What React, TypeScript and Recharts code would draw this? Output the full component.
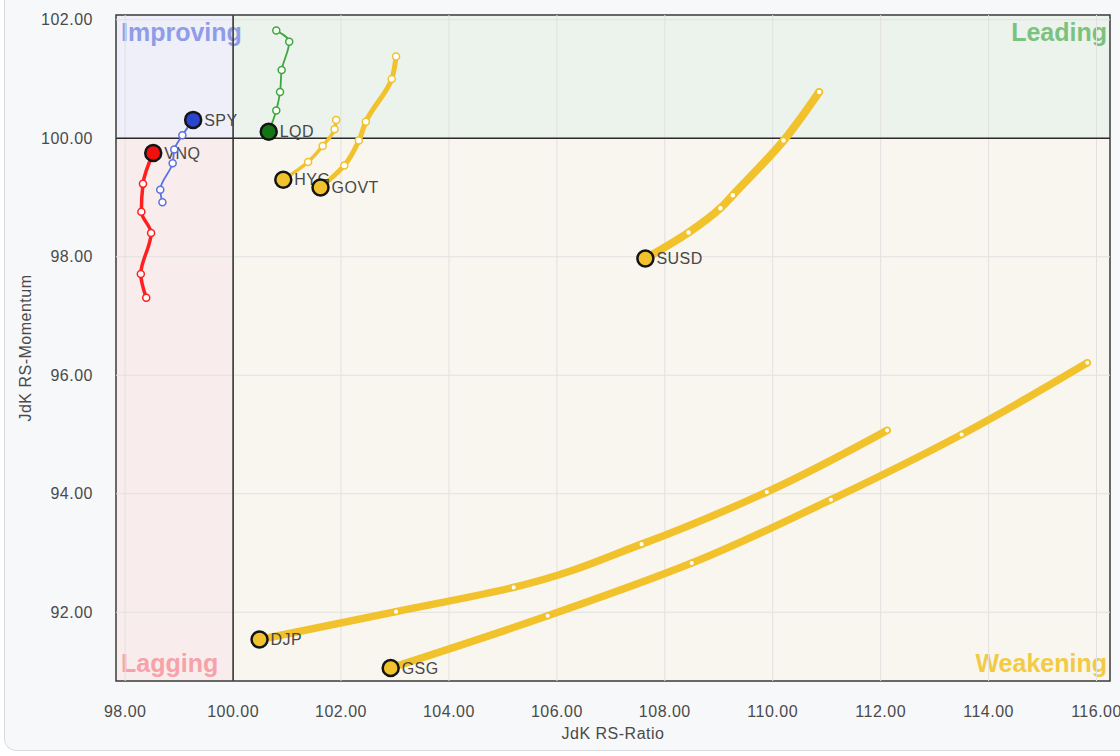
import React from "react";
import {
  ComposedChart,
  Line,
  XAxis,
  YAxis,
  ReferenceArea,
  ReferenceLine,
} from "recharts";

// axis ranges + ticks
const xDomain = [97.83, 116.25];
const yDomain = [90.84, 102.08];
const xTicks = [98, 100, 102, 104, 106, 108, 110, 112, 114, 116];
const yTicks = [92, 94, 96, 98, 100, 102];

// trails, tail -> head (head is the last point)
const vnqX = [98.39, 98.29, 98.48, 98.3, 98.33, 98.52];
const vnqY = [97.31, 97.71, 98.4, 98.76, 99.23, 99.75];

const spyX = [98.69, 98.65, 98.88, 98.91, 99.06, 99.26];
const spyY = [98.92, 99.13, 99.58, 99.81, 100.05, 100.31];

const lqdX = [100.8, 101.04, 100.9, 100.87, 100.8, 100.66];
const lqdY = [101.82, 101.63, 101.15, 100.78, 100.47, 100.11];

const hygX = [101.91, 101.88, 101.66, 101.39, 100.93];
const hygY = [100.31, 100.15, 99.87, 99.6, 99.3];

const govtX = [103.02, 102.94, 102.46, 102.33, 102.06, 101.62];
const govtY = [101.38, 101.0, 100.28, 99.96, 99.54, 99.17];

const susdX = [110.86, 110.2, 109.26, 109.03, 108.44, 107.64];
const susdY = [100.78, 99.96, 99.04, 98.82, 98.41, 97.97];

const djpX = [112.12, 109.89, 107.57, 105.2, 103.02, 100.49];
const djpY = [95.07, 94.03, 93.15, 92.42, 92.01, 91.54];

const gsgX = [115.83, 113.5, 111.08, 108.5, 105.83, 102.92];
const gsgY = [96.21, 95.0, 93.9, 92.83, 91.94, 91.06];

const YELLOW = "#f2c22c";

type Series = {
  name: string;
  xs: number[];
  ys: number[];
  color: string;
  head: string;
  width: number;
  dotR: number;
};

const series: Series[] = [
  { name: "VNQ", xs: vnqX, ys: vnqY, color: "#ff1f1f", head: "#f01010", width: 3.5, dotR: 3.5 },
  { name: "SPY", xs: spyX, ys: spyY, color: "#5b70e2", head: "#2b44cf", width: 1.8, dotR: 3.5 },
  { name: "LQD", xs: lqdX, ys: lqdY, color: "#3da83d", head: "#137513", width: 1.8, dotR: 3.5 },
  { name: "HYG", xs: hygX, ys: hygY, color: YELLOW, head: YELLOW, width: 3.5, dotR: 3.5 },
  { name: "GOVT", xs: govtX, ys: govtY, color: YELLOW, head: YELLOW, width: 5, dotR: 3.5 },
  { name: "SUSD", xs: susdX, ys: susdY, color: YELLOW, head: YELLOW, width: 8, dotR: 3 },
  { name: "DJP", xs: djpX, ys: djpY, color: YELLOW, head: YELLOW, width: 7.5, dotR: 2.8 },
  { name: "GSG", xs: gsgX, ys: gsgY, color: YELLOW, head: YELLOW, width: 7.5, dotR: 2.8 },
];

const FONT = "Arial, 'Liberation Sans', sans-serif";

const makeDot = (s: Series) => (p: any) => {
  const { cx, cy, index } = p;
  if (index === s.xs.length - 1) {
    return (
      <g key={`${s.name}-head`}>
        <circle cx={cx} cy={cy} r={8} fill={s.head} stroke="#141414" strokeWidth={2.5} />
        <text
          x={cx + 11}
          y={cy}
          dy="0.36em"
          fontSize={16}
          fill="#474747"
          letterSpacing={0.5}
          fontFamily={FONT}
        >
          {s.name}
        </text>
      </g>
    );
  }
  return (
    <circle
      key={`${s.name}-${index}`}
      cx={cx}
      cy={cy}
      r={s.dotR}
      fill="#fff"
      stroke={s.color}
      strokeWidth={1.5}
    />
  );
};

// quadrant caption renderer
const quadLabel =
  (text: string, color: string, corner: "tl" | "tr" | "bl" | "br") => (p: any) => {
    const vb = p.viewBox;
    const right = corner === "tr" || corner === "br";
    const top = corner === "tl" || corner === "tr";
    const x = right ? vb.x + vb.width - 3 : vb.x + 5;
    const y = top ? vb.y + 26 : vb.y + vb.height - 9;
    return (
      <text
        x={x}
        y={y}
        textAnchor={right ? "end" : "start"}
        fontSize={25}
        fontWeight="bold"
        fill={color}
        fontFamily={FONT}
      >
        {text}
      </text>
    );
  };

export default function App() {
  const [x0, x1] = xDomain;
  const [y0, y1] = yDomain;

  return (
    <div
      style={{
        position: "fixed",
        left: 0,
        top: 0,
        width: 1120,
        height: 756,
        background: "#ffffff",
        overflow: "hidden",
        fontFamily: FONT,
      }}
    >
      <div
        style={{
          position: "absolute",
          left: 4,
          top: -20,
          width: 1150,
          height: 769,
          border: "1px solid #d9dbe0",
          borderRadius: 12,
          background: "#f7f8fa",
        }}
      />
      <div style={{ position: "absolute", left: 0, top: 0 }}>
        <ComposedChart
          width={1120}
          height={756}
          margin={{ top: 15, right: 10, bottom: 0, left: 0 }}
        >
          <XAxis
            type="number"
            dataKey="x"
            domain={xDomain}
            ticks={xTicks}
            allowDataOverflow
            tickFormatter={(v: number) => v.toFixed(2)}
            axisLine={false}
            tickLine={false}
            tickSize={0}
            tickMargin={25}
            height={75}
            tick={{ fill: "#4a4a4a", fontSize: 16, letterSpacing: 0.5 }}
            label={(p: any) => {
              const vb = p.viewBox;
              return (
                <text
                  x={vb.x + vb.width / 2}
                  y={vb.y + 58}
                  textAnchor="middle"
                  fontSize={16}
                  letterSpacing={0.5}
                  fill="#4a4a4a"
                  fontFamily={FONT}
                >
                  JdK RS-Ratio
                </text>
              );
            }}
          />
          <YAxis
            type="number"
            dataKey="y"
            domain={yDomain}
            ticks={yTicks}
            allowDataOverflow
            tickFormatter={(v: number) => v.toFixed(2)}
            axisLine={false}
            tickLine={false}
            tickSize={0}
            tickMargin={23}
            width={116}
            tick={{ fill: "#4a4a4a", fontSize: 16, letterSpacing: 0.5 }}
            label={(p: any) => {
              const vb = p.viewBox;
              const cx = vb.x + 25;
              const cy = vb.y + vb.height / 2;
              return (
                <text
                  x={cx}
                  y={cy}
                  dy="0.36em"
                  transform={`rotate(-90 ${cx} ${cy})`}
                  textAnchor="middle"
                  fontSize={16}
                  letterSpacing={0.5}
                  fill="#4a4a4a"
                  fontFamily={FONT}
                >
                  JdK RS-Momentum
                </text>
              );
            }}
          />

          {/* quadrant fills */}
          <ReferenceArea x1={x0} x2={100} y1={100} y2={y1} fill="#eeeff9" fillOpacity={1} stroke="none" />
          <ReferenceArea x1={100} x2={x1} y1={100} y2={y1} fill="#ecf2ec" fillOpacity={1} stroke="none" />
          <ReferenceArea x1={x0} x2={100} y1={y0} y2={100} fill="#f9ecec" fillOpacity={1} stroke="none" />
          <ReferenceArea x1={100} x2={x1} y1={y0} y2={100} fill="#f8f6ee" fillOpacity={1} stroke="none" />

          {/* grid */}
          {xTicks.map((t) => (
            <ReferenceLine key={`gx${t}`} x={t} stroke="#e1e1e1" strokeWidth={1} />
          ))}
          {yTicks.map((t) => (
            <ReferenceLine key={`gy${t}`} y={t} stroke="#e1e1e1" strokeWidth={1} />
          ))}

          {/* quadrant captions, drawn over every fill */}
          <ReferenceArea x1={x0} x2={100} y1={100} y2={y1} fill="none" stroke="none"
            label={quadLabel("Improving", "#8f9ce8", "tl")} />
          <ReferenceArea x1={100} x2={x1} y1={100} y2={y1} fill="none" stroke="none"
            label={quadLabel("Leading", "#7ac27d", "tr")} />
          <ReferenceArea x1={x0} x2={100} y1={y0} y2={100} fill="none" stroke="none"
            label={quadLabel("Lagging", "#f6a2a8", "bl")} />
          <ReferenceArea x1={100} x2={x1} y1={y0} y2={100} fill="none" stroke="none"
            label={quadLabel("Weakening", "#f3ca44", "br")} />

          <ReferenceLine x={100} stroke="#2a2a2a" strokeWidth={1.5} />
          <ReferenceLine y={100} stroke="#2a2a2a" strokeWidth={1.5} />
          <ReferenceArea x1={x0} x2={x1} y1={y0} y2={y1} fill="none" stroke="#3a3a3a" strokeWidth={1.5} />

          {series.map((s) => (
            <Line
              key={s.name}
              data={s.xs.map((x, i) => ({ x, y: s.ys[i] }))}
              dataKey="y"
              type="monotoneY"
              stroke={s.color}
              strokeWidth={s.width}
              strokeLinecap="round"
              dot={makeDot(s)}
              activeDot={false}
              isAnimationActive={false}
            />
          ))}
        </ComposedChart>
      </div>
    </div>
  );
}
